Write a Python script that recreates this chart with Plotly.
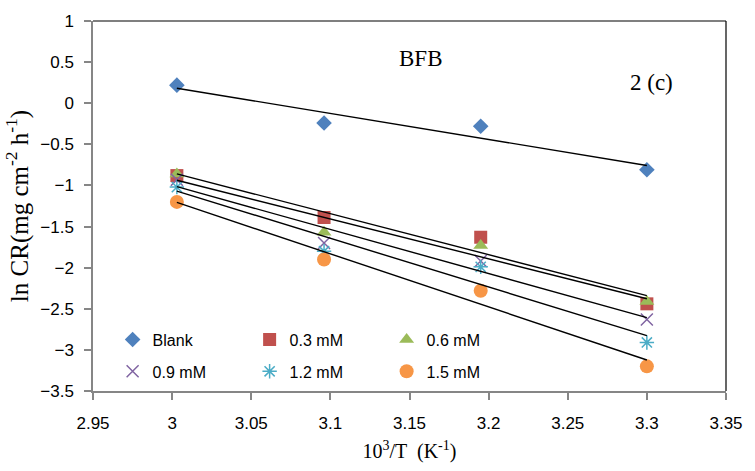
import numpy as np
import plotly.graph_objects as go

# 10^3/T values (K^-1) for the four test temperatures
inv_t = [3.003, 3.096, 3.195, 3.300]

# ln CR values for each inhibitor concentration
series_names = ["Blank", "0.3 mM", "0.6 mM", "0.9 mM", "1.2 mM", "1.5 mM"]
blank = [0.22, -0.24, -0.28, -0.81]
c03 = [-0.88, -1.39, -1.63, -2.44]
c06 = [-0.86, -1.57, -1.73, -2.41]
c09 = [-0.93, -1.70, -1.92, -2.63]
c12 = [-1.02, -1.80, -1.99, -2.91]
c15 = [-1.20, -1.90, -2.28, -3.20]
values = [blank, c03, c06, c09, c12, c15]

symbols = ["diamond", "square", "triangle-up", "x-thin", "asterisk", "circle"]
colors = ["#4F81BD", "#C0504D", "#9BBB59", "#8064A2", "#4BACC6", "#F79646"]
sizes = [12, 13, 13, 12, 12, 14]
legend_ids = ["legend", "legend", "legend", "legend2", "legend2", "legend2"]

SANS = "Liberation Sans, Arial"
SERIF = "Liberation Serif, Times New Roman"

fig = go.Figure()

for name, ys, sym, col, sz, lg in zip(series_names, values, symbols, colors, sizes, legend_ids):
    line_w = 1.5 if sym in ("x-thin", "asterisk") else 0
    fig.add_trace(go.Scatter(
        x=inv_t, y=ys, mode="markers", name=name, legend=lg,
        marker=dict(symbol=sym, size=sz, color=col,
                    line=dict(color=col, width=line_w)),
    ))

# linear (Arrhenius) trendlines for each series
for ys in values:
    slope, icpt = np.polyfit(inv_t, ys, 1)
    xs = [inv_t[0], inv_t[-1]]
    fig.add_trace(go.Scatter(
        x=xs, y=[slope * v + icpt for v in xs], mode="lines",
        line=dict(color="black", width=1.4), showlegend=False, hoverinfo="skip",
    ))

legend_style = dict(
    orientation="h", x=0.031, xanchor="left", yanchor="middle",
    entrywidth=92, entrywidthmode="pixels", bgcolor="rgba(0,0,0,0)",
    font=dict(family=SANS, size=16, color="black"),
    itemwidth=30,
)

fig.update_layout(
    width=755, height=471,
    margin=dict(l=93, r=22, t=18, b=78),
    paper_bgcolor="white", plot_bgcolor="white",
    legend=dict(y=0.139, **legend_style),
    legend2=dict(y=0.053, **legend_style),
    xaxis=dict(
        range=[2.95, 3.35], dtick=0.05, tick0=2.95,
        showline=True, linecolor="#868686", linewidth=1.5,
        ticks="outside", ticklen=7, tickcolor="#868686", tickwidth=1.5,
        ticklabelstandoff=9,
        showgrid=False, zeroline=False, mirror=False,
        tickfont=dict(family=SANS, size=17, color="black"),
        title=dict(text="10<sup>3</sup>/T  (K<sup>-1</sup>)", standoff=12,
                   font=dict(family=SERIF, size=20, color="black")),
    ),
    yaxis=dict(
        range=[-3.5, 1], dtick=0.5,
        showline=True, linecolor="#868686", linewidth=1.5,
        ticks="outside", ticklen=7, tickcolor="#868686", tickwidth=1.5,
        ticklabelstandoff=7,
        showgrid=False, zeroline=False,
        tickfont=dict(family=SANS, size=17, color="black"),
        title=dict(text="ln CR(mg cm<sup>-2</sup> h<sup>-1</sup>)", standoff=5,
                   font=dict(family=SERIF, size=25, color="black")),
    ),
    shapes=[
        dict(type="line", xref="paper", yref="paper", x0=0, x1=1, y0=1, y1=1,
             line=dict(color="black", width=1.2)),
        dict(type="line", xref="paper", yref="paper", x0=1, x1=1, y0=0, y1=1,
             line=dict(color="black", width=1.2)),
    ],
    annotations=[
        dict(text="BFB", x=3.157, y=0.54, xref="x", yref="y", showarrow=False,
             font=dict(family=SERIF, size=23, color="black")),
        dict(text="2 (c)", x=3.303, y=0.25, xref="x", yref="y", showarrow=False,
             font=dict(family=SERIF, size=23, color="black")),
    ],
)

fig.write_html("out.html")
